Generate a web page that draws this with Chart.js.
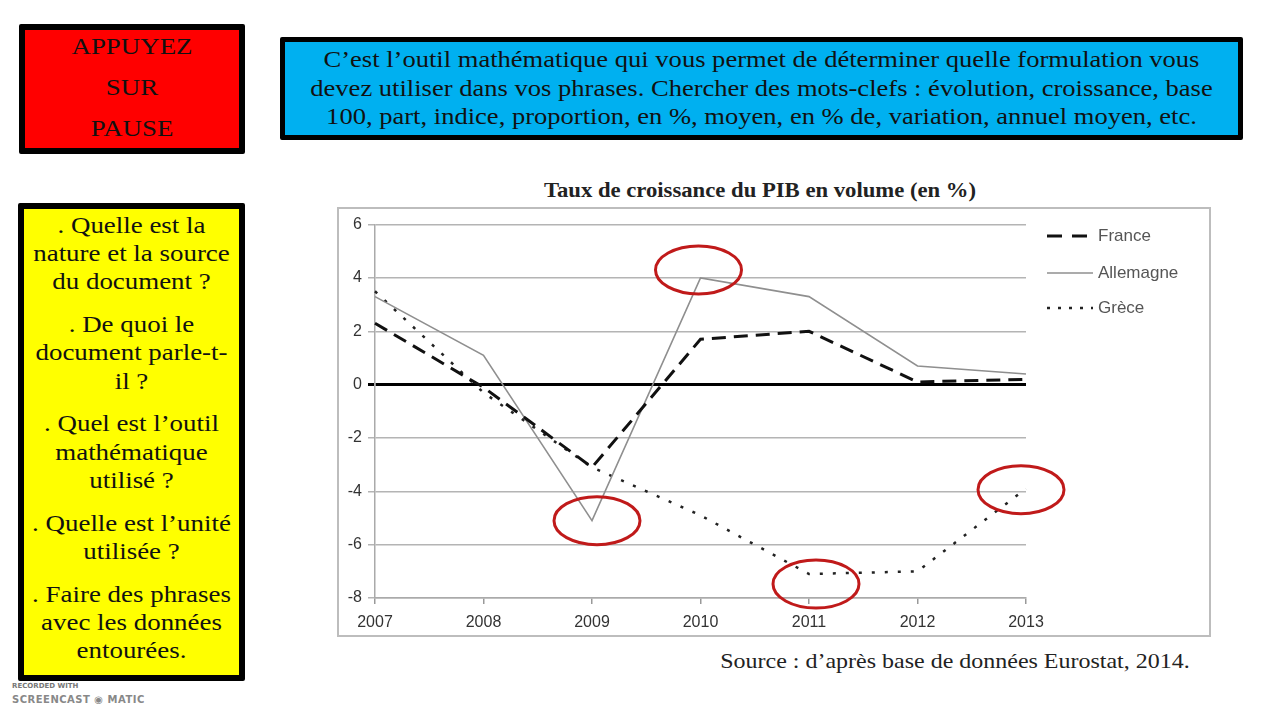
<!DOCTYPE html>
<html><head><meta charset="utf-8">
<script src="https://cdn.jsdelivr.net/npm/chart.js@4/dist/chart.umd.min.js"></script>
<style>
html,body{margin:0;padding:0;background:#fff;width:1280px;height:720px;overflow:hidden;position:relative;font-family:"Liberation Serif","Times New Roman",serif;}
.box{position:absolute;box-sizing:border-box;border:6px solid #000;border-radius:2px;color:#111;text-align:center;white-space:nowrap;}
.inner{transform-origin:50% 0;}
#red{left:19px;top:24px;width:226px;height:130px;background:#ff0000;font-size:24px;line-height:41px;}
#red .inner{transform:translateY(-4px) scaleX(1.12);}
#blue{left:280px;top:37px;width:963px;height:103px;background:#00b0f0;border-width:5px;font-size:22.5px;line-height:28.5px;padding-top:4px;}
#blue .inner{transform:scaleX(1.18);}
#yellow{left:18px;top:203px;width:227px;height:478px;background:#ffff00;font-size:23px;line-height:28.2px;padding-top:3px;}
#yellow .inner{transform:scaleX(1.17);}
#yellow p{margin:0 0 14.6px 0;}
#title{position:absolute;left:440px;width:640px;top:178px;text-align:center;font-weight:bold;font-size:21px;color:#222;transform:scaleX(1.08);}
#source{position:absolute;left:700px;width:510px;top:648px;text-align:center;font-size:22px;color:#222;transform:scaleX(1.09);}
#frame{position:absolute;left:337px;top:207px;width:874px;height:430px;box-sizing:border-box;border:2px solid #bdbdbd;}
#wrap{position:absolute;left:339px;top:209px;width:870px;height:426px;}
#wm1{position:absolute;left:12px;top:682px;font-family:"DejaVu Sans",sans-serif;font-size:7px;color:#777;font-weight:bold;}
#wm2{position:absolute;left:12px;top:694px;font-family:"DejaVu Sans",sans-serif;font-size:10px;color:#888;font-weight:bold;letter-spacing:0.5px;}
</style></head>
<body>
<div class="box" id="red"><div class="inner">APPUYEZ<br>SUR<br>PAUSE</div></div>
<div class="box" id="blue"><div class="inner">C’est l’outil mathématique qui vous permet de déterminer quelle formulation vous<br>devez utiliser dans vos phrases. Chercher des mots-clefs : évolution, croissance, base<br>100, part, indice, proportion, en %, moyen, en % de, variation, annuel moyen, etc.</div></div>
<div class="box" id="yellow"><div class="inner">
<p>. Quelle est la<br>nature et la source<br>du document ?</p>
<p>. De quoi le<br>document parle-t-<br>il ?</p>
<p>. Quel est l’outil<br>mathématique<br>utilisé ?</p>
<p>. Quelle est l’unité<br>utilisée ?</p>
<p>. Faire des phrases<br>avec les données<br>entourées.</p>
</div></div>
<div id="title">Taux de croissance du PIB en volume (en %)</div>
<div id="frame"></div>
<div id="wrap"><canvas id="c" width="870" height="426"></canvas></div>
<div id="source">Source : d’après base de données Eurostat, 2014.</div>
<div id="wm1">RECORDED WITH</div>
<div id="wm2">SCREENCAST ◉ MATIC</div>
<script>
const years = ["2007","2008","2009","2010","2011","2012","2013"];
const france = [2.3, -0.1, -3.1, 1.7, 2.0, 0.1, 0.2];
const allemagne = [3.3, 1.1, -5.1, 4.0, 3.3, 0.7, 0.4];
const grece = [3.5, -0.3, -3.1, -4.9, -7.1, -7.0, -3.9];
const yTicks = [6, 4, 2, 0, -2, -4, -6, -8];
// circled points: [datasetIndex, pointIndex, dx, dy]
const circled = [[1, 3, -2, -8], [1, 2, 5, 0], [2, 4, 7, 10], [2, 6, -5, 1]];

const ellipses = {
  id: 'ellipses',
  afterDatasetsDraw(chart) {
    const ctx = chart.ctx;
    ctx.save();
    ctx.strokeStyle = '#c01a1a';
    ctx.lineWidth = 3;
    circled.forEach(([d, i, dx, dy]) => {
      const pt = chart.getDatasetMeta(d).data[i];
      ctx.beginPath();
      ctx.ellipse(pt.x + dx, pt.y + dy, 43, 24, 0, 0, Math.PI * 2);
      ctx.stroke();
    });
    ctx.restore();
  }
};
const legendPlugin = {
  id: 'customLegend',
  afterDraw(chart) {
    const ctx = chart.ctx;
    const rows = [27, 64, 99];
    ctx.save();
    chart.data.datasets.forEach((ds, k) => {
      const y = rows[k];
      ctx.beginPath();
      ctx.strokeStyle = ds.borderColor;
      ctx.lineWidth = ds.borderWidth;
      ctx.setLineDash(ds.legendDash || ds.borderDash || []);
      ctx.moveTo(708, y);
      ctx.lineTo(754, y);
      ctx.stroke();
      ctx.setLineDash([]);
      ctx.fillStyle = '#555';
      ctx.font = '17px "Liberation Sans", Arial, sans-serif';
      ctx.textBaseline = 'middle';
      ctx.fillText(ds.label, 759, y);
    });
    ctx.restore();
  }
};

new Chart(document.getElementById('c'), {
  type: 'line',
  data: {
    labels: years,
    datasets: [
      {label: 'France', data: france, borderColor: '#111', borderWidth: 3, borderDash: [14, 8], legendDash: [15, 10], pointRadius: 0, tension: 0, fill: false},
      {label: 'Allemagne', data: allemagne, borderColor: '#8f8f8f', borderWidth: 1.6, pointRadius: 0, tension: 0, fill: false},
      {label: 'Grèce', data: grece, borderColor: '#222', borderWidth: 2.5, borderDash: [3, 10], legendDash: [3, 8], pointRadius: 0, tension: 0, fill: false}
    ]
  },
  options: {
    responsive: false,
    animation: false,
    layout: {padding: {left: 0, right: 183, top: 13, bottom: 0}},
    plugins: {legend: {display: false}, tooltip: {enabled: false}},
    scales: {
      x: {
        offset: false,
        grid: {drawOnChartArea: false, drawTicks: true, tickLength: 6, color: '#999', lineWidth: 1.5},
        border: {display: true, color: '#aaa', width: 1.5},
        ticks: {color: '#333', font: {size: 16, family: '"Liberation Sans", Arial, sans-serif'}, padding: 9, maxRotation: 0, autoSkip: false},
        afterFit(s) { s.height = 37; }
      },
      y: {
        min: -8, max: 6,
        afterBuildTicks(s) { s.ticks = yTicks.map(v => ({value: v})); },
        grid: {
          color: c => c.tick && c.tick.value === 0 ? '#000' : '#b4b4b4',
          lineWidth: c => c.tick && c.tick.value === 0 ? 3 : 1.5,
          tickLength: 7
        },
        border: {display: true, color: '#aaa', width: 1.5},
        ticks: {color: '#333', font: {size: 16, family: '"Liberation Sans", Arial, sans-serif'}, padding: 6},
        afterFit(s) { s.width = 36; }
      }
    }
  },
  plugins: [ellipses, legendPlugin]
});
</script>
</body></html>
